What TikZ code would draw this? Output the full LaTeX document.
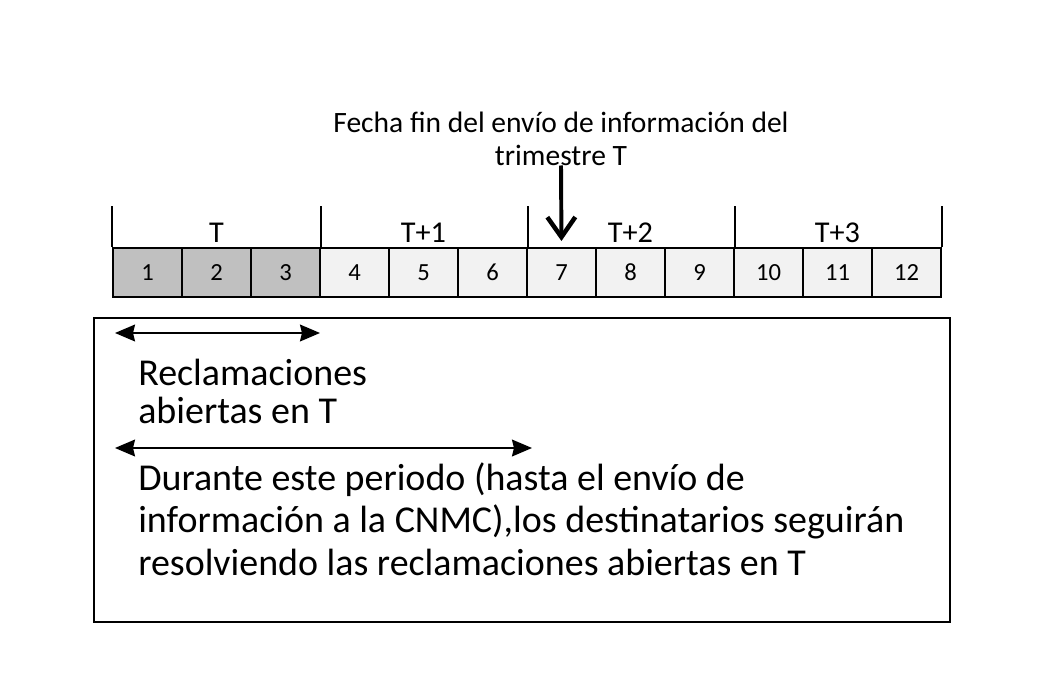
\documentclass[tikz,border=0pt]{standalone}
\usepackage{fontspec}
\setmainfont{Carlito}
\usetikzlibrary{arrows.meta}

\definecolor{grisT}{RGB}{192,192,192}
\definecolor{grisR}{RGB}{242,242,242}

\begin{document}
\begin{tikzpicture}[
			x=0.025cm, y=-0.025cm,
			mes/.style={
				draw,
				line width=1.4pt,
				minimum width=1.725cm,
				minimum height=1.225cm,
				inner sep=0pt,
				font=\fontsize{17.5}{20}\selectfont
			},
			mesT/.style={mes, fill=grisT},
			mesR/.style={mes, fill=grisR},
			trim/.style={anchor=base, inner sep=0pt, font=\fontsize{21.5}{24}\selectfont},
			linea/.style={line width=1.4pt},
			texto/.style={anchor=base west, align=left, inner sep=0pt},
			dobleFlecha/.style={line width=1.4pt, {Stealth[length=0.5cm,width=0.42cm,inset=0.05cm]}-{Stealth[length=0.5cm,width=0.42cm,inset=0.05cm]}},
			flechaAbajo/.style={line width=2.8pt, -{Straight Barb[length=0.5cm,width=0.7cm,line width=3.2pt]}, shorten >=0.15cm}
			]
			
			\useasboundingbox (0,0) rectangle (1050,676);
			
			% meses
			\node[mesT] (c1) at (147.5,272.5) {1};
			\node[mesT] (c2) at (216.5,272.5) {2};
			\node[mesT] (c3) at (285.5,272.5) {3};
			\node[mesR] (c4) at (354.5,272.5) {4};
			\node[mesR] (c5) at (423.5,272.5) {5};
			\node[mesR] (c6) at (492.5,272.5) {6};
			\node[mesR] (c7) at (561.5,272.5) {7};
			\node[mesR] (c8) at (630.5,272.5) {8};
			\node[mesR] (c9) at (699.5,272.5) {9};
			\node[mesR] (c10) at (768.5,272.5) {10};
			\node[mesR] (c11) at (837.5,272.5) {11};
			\node[mesR] (c12) at (906.5,272.5) {12};
			
			% trimestres
			\draw[linea] (c1.north west) -- ++(0,-41);
			\draw[linea] (c3.north east) -- ++(0,-41);
			\draw[linea] (c6.north east) -- ++(0,-41);
			\draw[linea] (c9.north east) -- ++(0,-41);
			\draw[linea] (c12.north east) -- ++(0,-41);
			
			\node[trim] (tT) at (216.5,242) {T};
			\node[trim] (tT1) at (423.5,242) {T+1};
			\node[trim] (tT2) at (630.5,242) {T+2};
			\node[trim] (tT3) at (837.5,242) {T+3};
			
			\node[anchor=base, align=center, inner sep=0pt, font=\fontsize{21}{22.8}\selectfont] (fecha) at (561,165) 
			{Fecha fin del envío de información del\\trimestre T};
			\draw[flechaAbajo] (fecha.south) -- (c7.north);
			
			% caja inferior
			\node[draw, line width=1.8pt, minimum width=21.4cm, minimum height=7.6cm, inner sep=0pt] (caja) at (522,470) {};
			
			\coordinate (a1i) at (115,333);
			\coordinate (a1d) at (320,333);
			\coordinate (a2i) at (115,448);
			\coordinate (a2d) at (532,448);
			
			\draw[dobleFlecha] (a1i) -- (a1d);
			\node[texto, font=\fontsize{27}{27}\selectfont] (recl) at (138,423) 
			{Reclamaciones\\abiertas en T};
			
			\draw[dobleFlecha] (a2i) -- (a2d);
			\node[texto, font=\fontsize{27}{30}\selectfont] (durante) at (138,575) 
			{Durante este periodo (hasta el envío de\\información a la CNMC),los destinatarios seguirán\\resolviendo las reclamaciones abiertas en T};
			
		\end{tikzpicture}
\end{document}
